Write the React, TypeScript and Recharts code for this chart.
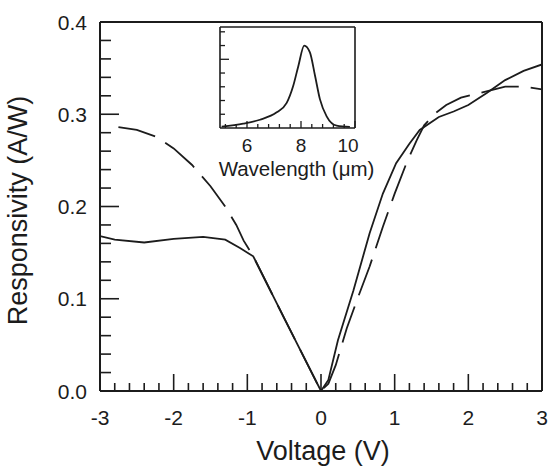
import React from "react";
import { LineChart, Line, XAxis, YAxis, ReferenceLine, Label } from "recharts";

// Responsivity vs bias, two devices (solid / dashed)
const solidVoltage = [-3, -2.8, -2.4, -2.0, -1.6, -1.3, -1.1, -0.92, -0.5, 0, 0.1, 0.23, 0.44, 0.66, 0.84, 1.02, 1.2, 1.34, 1.6, 1.8, 2.0, 2.25, 2.5, 2.75, 3.0];
const solidResp = [0.168, 0.164, 0.161, 0.165, 0.167, 0.164, 0.155, 0.146, 0.079, 0, 0.012, 0.055, 0.109, 0.171, 0.214, 0.247, 0.268, 0.283, 0.297, 0.303, 0.31, 0.323, 0.337, 0.347, 0.354];

const dashedVoltage = [-2.75, -2.5, -2.25, -2.0, -1.75, -1.5, -1.3, -1.15, -1.05, -0.92, -0.5, 0, 0.1, 0.2, 0.35, 0.5, 0.66, 0.84, 1.0, 1.16, 1.3, 1.4, 1.55, 1.7, 1.9, 2.1, 2.3, 2.5, 2.75, 3.0];
const dashedResp = [0.286, 0.283, 0.276, 0.263, 0.245, 0.222, 0.2, 0.18, 0.163, 0.146, 0.079, 0, 0.008, 0.028, 0.068, 0.101, 0.135, 0.178, 0.214, 0.247, 0.272, 0.288, 0.301, 0.31, 0.318, 0.322, 0.326, 0.33, 0.33, 0.327];

// Inset: spectral response (arb. units)
const spectrumWavelength = [5.06, 5.86, 6.48, 7.1, 7.47, 7.71, 7.9, 8.12, 8.33, 8.52, 8.7, 8.95, 9.32, 9.81];
const spectrumSignal = [0.02, 0.063, 0.12, 0.228, 0.365, 0.61, 0.9, 1.2, 1.1, 0.76, 0.42, 0.17, 0.034, 0.015];

const voltageMajor = [-3, -2, -1, 0, 1, 2, 3];
const respMajor = [0, 0.1, 0.2, 0.3, 0.4];
const waveMajor = [6, 8, 10];

const INK = "#1c1c1c";
const FONT = "'Liberation Sans', Arial, Helvetica, sans-serif";

const stepTicks = (lo: number, hi: number, step: number) => {
  const out: number[] = [];
  const n = Math.round((hi - lo) / step);
  for (let i = 0; i <= n; i++) out.push(Math.round((lo + i * step) * 1000) / 1000);
  return out;
};

const voltageTicks = stepTicks(-3, 3, 0.2);
const respTicks = stepTicks(0, 0.4, 0.02);
const waveTicks = stepTicks(5.2, 10, 0.4);
const signalTicks = stepTicks(0.2, 1.4, 0.2);

const near = (v: number, list: number[]) => list.some((m) => Math.abs(m - v) < 1e-6);

const solid = solidVoltage.map((v, i) => ({ v, r: solidResp[i] }));
const dashed = dashedVoltage.map((v, i) => ({ v, r: dashedResp[i] }));
const spectrum = spectrumWavelength.map((w, i) => ({ w, s: spectrumSignal[i] }));

const VoltTick = (props: any) => {
  const { x, y, payload } = props;
  const major = near(payload.value, voltageMajor);
  return (
    <g>
      <line x1={x} x2={x} y1={y} y2={y - (major ? 17 : 8)} stroke={INK} strokeWidth={1.6} />
      {major && (
        <text x={x} y={y + 34} textAnchor="middle" fontSize={21} fontFamily={FONT} fill={INK}>
          {String(payload.value)}
        </text>
      )}
    </g>
  );
};

const RespTick = (props: any) => {
  const { x, y, payload } = props;
  const major = near(payload.value, respMajor);
  return (
    <g>
      <line x1={x} x2={x + (major ? 19 : 11)} y1={y} y2={y} stroke={INK} strokeWidth={1.6} />
      {major && (
        <text x={x - 13} y={y + 7.5} textAnchor="end" fontSize={21} fontFamily={FONT} fill={INK}>
          {payload.value.toFixed(1)}
        </text>
      )}
    </g>
  );
};

const WaveTick = (props: any) => {
  const { x, y, payload } = props;
  const major = near(payload.value, waveMajor);
  const shift = payload.value >= 10 ? -7 : 0;
  return (
    <g>
      <line x1={x} x2={x} y1={y} y2={y - (major ? 7 : 4)} stroke={INK} strokeWidth={1.3} />
      {major && (
        <text x={x + shift} y={y + 24} textAnchor="middle" fontSize={19} fontFamily={FONT} fill={INK}>
          {String(payload.value)}
        </text>
      )}
    </g>
  );
};

const SignalTick = (props: any) => {
  const { x, y, payload } = props;
  const major = Math.abs(payload.value - 1) < 1e-6;
  return <line x1={x} x2={x + (major ? 9 : 5)} y1={y} y2={y} stroke={INK} strokeWidth={1.3} />;
};

const YTitle = (props: any) => {
  const { viewBox } = props;
  const cx = viewBox.x + 27;
  const cy = viewBox.y + viewBox.height / 2 + 4;
  return (
    <text x={cx} y={cy} transform={`rotate(-90 ${cx} ${cy})`} textAnchor="middle" fontSize={27} fontFamily={FONT} fill={INK}>
      Responsivity (A/W)
    </text>
  );
};

const XTitle = (props: any) => {
  const { viewBox } = props;
  const cx = viewBox.x + viewBox.width / 2 + 2;
  return (
    <text x={cx} y={viewBox.y + 69} textAnchor="middle" fontSize={27} fontFamily={FONT} fill={INK}>
      Voltage (V)
    </text>
  );
};

const InsetTitle = (props: any) => {
  const { viewBox } = props;
  const cx = viewBox.x + viewBox.width / 2 + 9;
  return (
    <text x={cx} y={viewBox.y + 48} textAnchor="middle" fontSize={20.5} fontFamily={FONT} fill={INK}>
      Wavelength (μm)
    </text>
  );
};

export default function App() {
  return (
    <div style={{ position: "absolute", left: 0, top: 0, width: 552, height: 467, background: "#fff" }}>
      <LineChart width={552} height={467} margin={{ top: 22, right: 10, bottom: 0, left: 0 }}>
        <XAxis
          type="number"
          dataKey="v"
          domain={[-3, 3]}
          ticks={voltageTicks}
          interval={0}
          tickSize={0}
          tickMargin={0}
          tickLine={false}
          axisLine={{ stroke: INK, strokeWidth: 2 }}
          height={76}
          tick={<VoltTick />}
          allowDataOverflow
        >
          <Label content={<XTitle />} />
        </XAxis>
        <YAxis
          type="number"
          domain={[0, 0.4]}
          ticks={respTicks}
          interval={0}
          tickSize={0}
          tickMargin={0}
          tickLine={false}
          axisLine={{ stroke: INK, strokeWidth: 2 }}
          width={100}
          tick={<RespTick />}
          allowDataOverflow
        >
          <Label content={<YTitle />} />
        </YAxis>
        <ReferenceLine y={0.4} stroke={INK} strokeWidth={2} />
        <ReferenceLine x={3} stroke={INK} strokeWidth={2} />
        <Line data={solid} dataKey="r" type="linear" stroke={INK} strokeWidth={1.8} dot={false} isAnimationActive={false} />
        <Line data={dashed} dataKey="r" type="linear" stroke={INK} strokeWidth={1.8} strokeDasharray="38 12" dot={false} isAnimationActive={false} />
      </LineChart>

      <div style={{ position: "absolute", left: 180, top: 0 }}>
        <LineChart width={200} height={185} margin={{ top: 27, right: 25, bottom: 0, left: 0 }}>
          <XAxis
            type="number"
            dataKey="w"
            domain={[5, 10]}
            ticks={waveTicks}
            interval={0}
            tickSize={0}
            tickMargin={0}
            tickLine={false}
            axisLine={{ stroke: INK, strokeWidth: 1.6 }}
            height={57}
            tick={<WaveTick />}
            allowDataOverflow
          >
            <Label content={<InsetTitle />} />
          </XAxis>
          <YAxis
            type="number"
            domain={[0, 1.47]}
            ticks={signalTicks}
            interval={0}
            tickSize={0}
            tickMargin={0}
            tickLine={false}
            axisLine={{ stroke: INK, strokeWidth: 1.6 }}
            width={40}
            tick={<SignalTick />}
            allowDataOverflow
          />
          <ReferenceLine y={1.47} stroke={INK} strokeWidth={1.6} />
          <ReferenceLine x={10} stroke={INK} strokeWidth={1.6} />
          <Line data={spectrum} dataKey="s" type="monotone" stroke={INK} strokeWidth={1.8} dot={false} isAnimationActive={false} />
        </LineChart>
      </div>
    </div>
  );
}
